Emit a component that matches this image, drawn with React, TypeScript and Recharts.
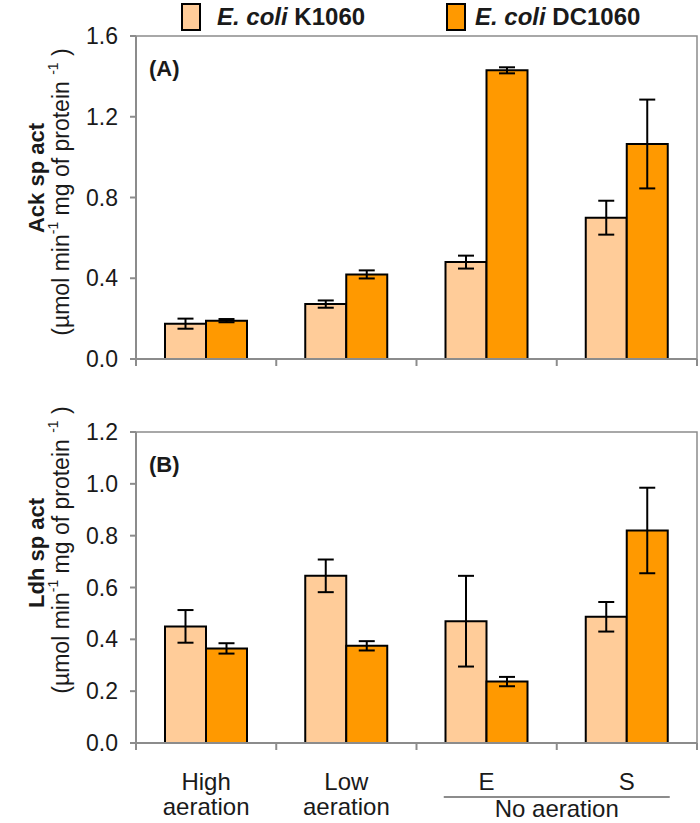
import { BarChart, Bar, XAxis, YAxis, ErrorBar, ReferenceArea } from 'recharts';

const CATEGORIES = ['High aeration', 'Low aeration', 'E', 'S'];

// Ack specific activity (panel A)
const ACK_K1060 = [0.175, 0.272, 0.48, 0.7];
const ACK_K1060_ERR = [0.025, 0.018, 0.032, 0.084];
const ACK_DC1060 = [0.19, 0.419, 1.43, 1.065];
const ACK_DC1060_ERR = [0.008, 0.02, 0.015, 0.22];

// Ldh specific activity (panel B)
const LDH_K1060 = [0.45, 0.645, 0.47, 0.487];
const LDH_K1060_ERR = [0.063, 0.063, 0.175, 0.057];
const LDH_DC1060 = [0.365, 0.375, 0.237, 0.82];
const LDH_DC1060_ERR = [0.02, 0.018, 0.018, 0.165];

const ACK_TICKS = [0, 0.4, 0.8, 1.2, 1.6];
const LDH_TICKS = [0, 0.2, 0.4, 0.6, 0.8, 1.0, 1.2];

const LIGHT = '#FFCC99';
const DARK = '#FF9900';
const AXIS = '#8c8c8c';
const INK = '#1a1a1a';
const FONT = '"Liberation Sans", Arial, sans-serif';

const W = 700;
const Y_AXIS_W = 136;
const RIGHT = 3;
const STEP = (W - Y_AXIS_W - RIGHT) / CATEGORIES.length;

const ackData = CATEGORIES.map((c, i) => ({
  name: c,
  k: ACK_K1060[i],
  kErr: ACK_K1060_ERR[i],
  dc: ACK_DC1060[i],
  dcErr: ACK_DC1060_ERR[i],
}));

const ldhData = CATEGORIES.map((c, i) => ({
  name: c,
  k: LDH_K1060[i],
  kErr: LDH_K1060_ERR[i],
  dc: LDH_DC1060[i],
  dcErr: LDH_DC1060_ERR[i],
}));

// boundary tick marks between categories, plus the labels on panel B
function CatTick(props: any) {
  const { x, y, index, payload, labels } = props;
  const last = index === CATEGORIES.length - 1;
  const left = x - STEP / 2;
  const words = String(payload.value).split(' ');
  return (
    <g>
      <line x1={left} y1={y} x2={left} y2={y + 7} stroke={AXIS} strokeWidth={2} />
      {last && <line x1={x + STEP / 2} y1={y} x2={x + STEP / 2} y2={y + 7} stroke={AXIS} strokeWidth={2} />}
      {labels &&
        words.map((w, i) => (
          <text key={i} x={x} y={y + 47 + i * 25} textAnchor="middle" fontSize={24} fill={INK} fontFamily={FONT}>
            {w}
          </text>
        ))}
      {labels && last && (
        <g>
          <line x1={left - 113} y1={y + 54} x2={left + 113} y2={y + 54} stroke={AXIS} strokeWidth={2} />
          <text x={left} y={y + 74} textAnchor="middle" fontSize={24} fill={INK} fontFamily={FONT}>
            No aeration
          </text>
        </g>
      )}
    </g>
  );
}

function Panel({ data, ticks, max, height, top, xHeight, labels }: any) {
  return (
    <BarChart
      width={W}
      height={height}
      data={data}
      margin={{ top, right: RIGHT, left: 0, bottom: 0 }}
      barCategoryGap={29}
      barGap={0}
    >
      <ReferenceArea y1={0} y2={max} fill="none" stroke={AXIS} strokeWidth={1.5} />
      <XAxis
        dataKey="name"
        height={xHeight}
        axisLine={{ stroke: AXIS, strokeWidth: 2 }}
        tickLine={false}
        tickSize={0}
        tickMargin={0}
        interval={0}
        tick={<CatTick labels={labels} />}
      />
      <YAxis
        width={Y_AXIS_W}
        domain={[0, max]}
        ticks={ticks}
        allowDataOverflow
        axisLine={{ stroke: AXIS, strokeWidth: 2 }}
        tickLine={{ stroke: AXIS, strokeWidth: 2 }}
        tickSize={6}
        tickMargin={12}
        tickFormatter={(v: number) => v.toFixed(1)}
        tick={{ fontSize: 23, fill: INK, fontFamily: FONT }}
      />
      <Bar dataKey="k" fill={LIGHT} stroke="#000" strokeWidth={2} isAnimationActive={false}>
        <ErrorBar dataKey="kErr" width={8} stroke="#000" strokeWidth={2} direction="y" isAnimationActive={false} />
      </Bar>
      <Bar dataKey="dc" fill={DARK} stroke="#000" strokeWidth={2} isAnimationActive={false}>
        <ErrorBar dataKey="dcErr" width={8} stroke="#000" strokeWidth={2} direction="y" isAnimationActive={false} />
      </Bar>
    </BarChart>
  );
}

function YLabel({ cy, boldCy, title }: { cy: number; boldCy: number; title: string }) {
  return (
    <g fontFamily={FONT} fill={INK}>
      <text
        transform={`translate(36, ${boldCy}) rotate(-90)`}
        textAnchor="middle"
        dominantBaseline="central"
        fontSize={22}
        fontWeight="bold"
      >
        {title}
      </text>
      <text
        transform={`translate(61, ${cy}) rotate(-90)`}
        textAnchor="middle"
        dominantBaseline="central"
        fontSize={23}
      >
        (µmol min<tspan dy={-8} fontSize={14}>-1</tspan>
        <tspan dy={8}> mg of protein </tspan>
        <tspan dy={-8} fontSize={14}>-1</tspan>
        <tspan dy={8}> )</tspan>
      </text>
    </g>
  );
}

export default function App() {
  return (
    <div style={{ position: 'absolute', left: 0, top: 0, width: 700, height: 823, background: '#fff' }}>
      <div style={{ position: 'absolute', left: 0, top: 0 }}>
        <Panel data={ackData} ticks={ACK_TICKS} max={1.6} height={380} top={36} xHeight={21} labels={false} />
      </div>
      <div style={{ position: 'absolute', left: 0, top: 400 }}>
        <Panel data={ldhData} ticks={LDH_TICKS} max={1.2} height={423} top={32} xHeight={80} labels />
      </div>
      <svg
        width={700}
        height={823}
        style={{ position: 'absolute', left: 0, top: 0, pointerEvents: 'none' }}
      >
        <g fontFamily={FONT} fontSize={24} fontWeight="bold" fill={INK}>
          <rect x={182} y={4} width={18} height={26} fill={LIGHT} stroke="#000" strokeWidth={2} />
          <text x={217} y={25}>
            <tspan fontStyle="italic">E. coli</tspan> K1060
          </text>
          <rect x={447} y={4} width={18} height={26} fill={DARK} stroke="#000" strokeWidth={2} />
          <text x={475} y={25}>
            <tspan fontStyle="italic">E. coli</tspan> DC1060
          </text>
          <text x={149} y={76} fontSize={22}>(A)</text>
          <text x={149} y={472} fontSize={22}>(B)</text>
        </g>
        <YLabel cy={192} boldCy={178} title="Ack sp act" />
        <YLabel cy={550} boldCy={553} title="Ldh sp act" />
      </svg>
    </div>
  );
}
